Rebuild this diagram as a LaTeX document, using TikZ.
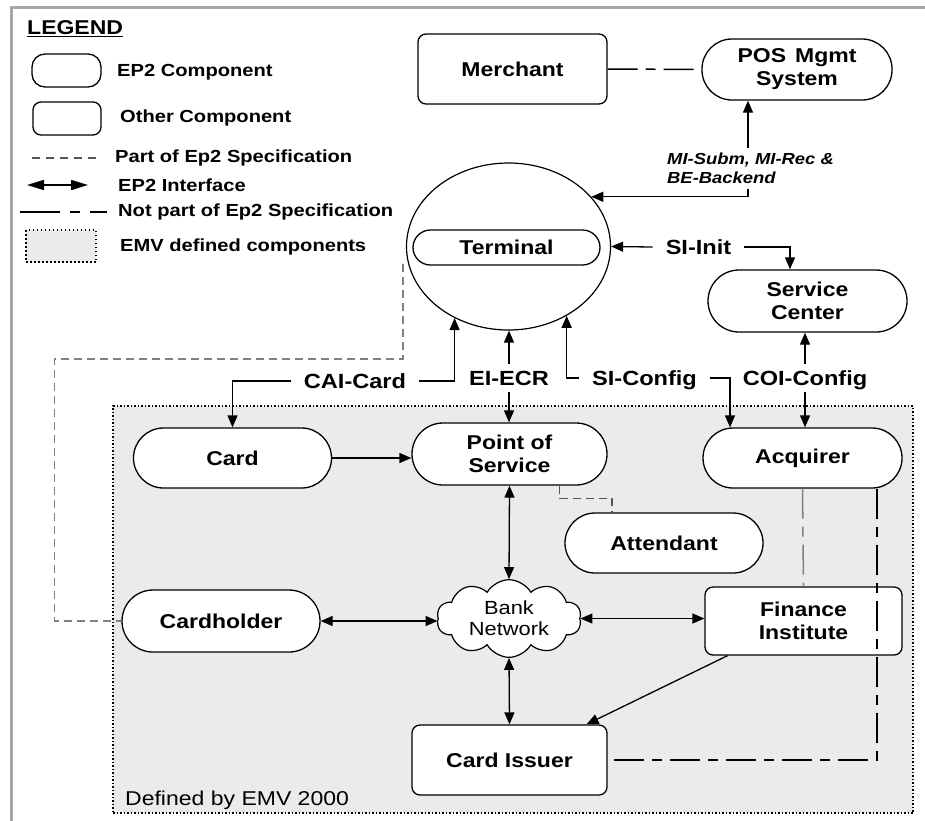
\documentclass[tikz,border=0pt]{standalone}
\usepackage{fontspec}
\setmainfont{Liberation Sans}[FakeStretch=1.15]
\usetikzlibrary{shapes.symbols,shapes.geometric,arrows.meta,calc}
\definecolor{emvgray}{HTML}{EBEBEB}
\definecolor{dashgray}{HTML}{555555}
\tikzset{
  nodebox/.style={draw, line width=1.3pt, fill=white, align=center, inner sep=0pt},
  arr/.style={line width=1.3pt, -{Triangle[length=12pt,width=10pt]}},
  biarr/.style={line width=1.3pt, {Triangle[length=12pt,width=10pt]}-{Triangle[length=12pt,width=10pt]}},
  specline/.style={line width=1.5pt, draw=dashgray, dash pattern=on 8pt off 5pt},
  notpart/.style={line width=1.5pt, dash pattern=on 30pt off 8pt on 10pt off 8pt},
  lbl/.style={font=\bfseries\fontsize{20.5}{23}\selectfont, inner xsep=13pt, inner ysep=7pt, text height=14.5pt, text depth=0pt},
  legtxt/.style={anchor=west, font=\bfseries\fontsize{17.5}{20}\selectfont, inner sep=0pt},
}
\begin{document}
\begin{tikzpicture}[x=1pt,y=-1pt,font=\bfseries\fontsize{20}{23}\selectfont]
\useasboundingbox (0,0) rectangle (925,820);
% frame
\draw[gray!70, line width=3pt] (11,822) -- (11,7) -- (927,7);

% legend
\node[anchor=west, font=\bfseries\fontsize{20}{22}\selectfont, inner sep=0pt] (legend) at (27,29) {\underline{LEGEND}};
\node[nodebox, rounded corners=13pt, minimum width=69pt, minimum height=33pt] (legep2) at (66.5,70.5) {};
\node[legtxt] (legep2t) at (117,72) {EP2 Component};
\node[nodebox, rounded corners=8pt, minimum width=68pt, minimum height=33pt] (legoth) at (67,118.5) {};
\node[legtxt] (legotht) at (120,118) {Other Component};
\draw[line width=1.3pt, draw=dashgray, dash pattern=on 8pt off 6pt] (32,158) -- (97,158);
\node[legtxt] (legspec) at (115,158) {Part of Ep2 Specification};
\draw[line width=1.5pt, {Triangle[length=17pt,width=10pt]}-{Triangle[length=17pt,width=10pt]}] (27,185) -- (88,185);
\node[legtxt] (legif) at (118,185) {EP2 Interface};
\draw[line width=1.3pt, dash pattern=on 40pt off 10pt on 10pt off 10pt] (20,212) -- (107,212);
\node[legtxt] (legnot) at (118,212) {Not part of Ep2 Specification};
\node[draw, dash pattern=on 1.5pt off 2.5pt, line width=1.2pt, fill=emvgray, minimum width=70pt, minimum height=32pt, inner sep=0pt] (legemv) at (61,246) {};
\node[legtxt] (legemvt) at (120,247) {EMV defined components};

% EMV area
\node[draw, dash pattern=on 1.5pt off 2pt, line width=1.2pt, fill=emvgray, minimum width=800pt, minimum height=407pt, inner sep=0pt] (emv) at (513,609.5) {};
\node[anchor=base west, font=\mdseries\fontsize{20}{23}\selectfont, inner sep=0pt] (emvlbl) at (125,805) {Defined by EMV 2000};

% nodes
\node[nodebox, rounded corners=8pt, minimum width=189pt, minimum height=70pt] (merchant) at (512.5,69) {Merchant};
\node[nodebox, rounded corners=30pt, minimum width=190pt, minimum height=61pt] (posmgmt) at (797,69.5) {POS\hspace{9pt}Mgmt\\System};
\node[draw, ellipse, line width=1.2pt, fill=white, minimum width=204pt, minimum height=167pt, inner sep=0pt] (terminal) at (508.5,246.5) {};
\node[nodebox, rounded corners=17.5pt, minimum width=187pt, minimum height=35pt] (terminalbox) at (506.5,247.5) {Terminal};
\node[nodebox, rounded corners=31pt, minimum width=199pt, minimum height=62pt] (sc) at (807.5,301) {Service\\Center};
\node[nodebox, rounded corners=30pt, minimum width=198pt, minimum height=60pt] (card) at (232.5,458) {Card};
\node[nodebox, rounded corners=31pt, minimum width=195pt, minimum height=62pt] (pos) at (509.5,454) {Point of\\Service};
\node[nodebox, rounded corners=30pt, minimum width=199pt, minimum height=60pt] (acq) at (802.5,458) {Acquirer};
\node[nodebox, rounded corners=30pt, minimum width=198pt, minimum height=60pt] (att) at (664,543) {Attendant};
\node[cloud, cloud puffs=10, cloud puff arc=120, cloud ignores aspect, draw, line width=1.2pt, fill=white, inner xsep=10pt, inner ysep=2pt, align=center, font=\mdseries\fontsize{19}{21}\selectfont] (bank) at (509,618.5) {Bank\\Network};
\node[nodebox, rounded corners=31pt, minimum width=198pt, minimum height=62pt] (cardholder) at (221,621) {Cardholder};
\node[nodebox, rounded corners=8pt, minimum width=197pt, minimum height=68pt] (finance) at (803.5,621) {Finance\\Institute};
\node[nodebox, rounded corners=8pt, minimum width=195pt, minimum height=70pt] (issuer) at (509.5,760) {Card Issuer};

% labels
\node[lbl] (cai) at (355,381) {CAI-Card};
\node[lbl, inner xsep=2pt] (ei) at (509,378) {EI-ECR};
\node[lbl] (sicfg) at (644.5,378) {SI-Config};
\node[lbl, inner xsep=2pt] (coi) at (805,378) {COI-Config};
\node[lbl] (siinit) at (698.5,247) {SI-Init};
\node[anchor=north west, align=left, font=\bfseries\itshape\fontsize{16}{19}\selectfont, inner sep=0pt] (mi) at (667,153) {MI-Subm, MI-Rec \&\\BE-Backend};
\coordinate (mitop) at (748,148);
\coordinate (mibot) at (748,189);

% connectors
\draw[notpart] (merchant.east) -- (posmgmt.west);
\draw[arr] (mitop) -- (mitop |- posmgmt.south);
\draw[arr] (mibot) |- (terminal.31.5);
\draw[arr] (siinit.west) -- (terminal.east);
\draw[arr] (siinit.east) -| ([xshift=-17.5pt]sc.north);
\draw[arr] (cai.west) -| (card.north);
\draw[arr] (cai.east) -| (terminal.233);
\draw[arr] (ei.north) -- (ei.north |- terminal.south);
\draw[arr] (ei.south) -- (ei.south |- pos.north);
\draw[arr] (sicfg.west) -| (terminal.310);
\draw[arr] (sicfg.east) -| ([xshift=-72.5pt]acq.north);
\draw[arr] (coi.north) -- (coi.north |- sc.south);
\draw[arr] (coi.south) -- (coi.south |- acq.north);
\draw[arr] (card.east) -- (card.east -| pos.west);
\draw[specline] ([xshift=50pt]pos.south) -- ++(0,13) -| ([xshift=-52pt]att.north);
\draw[biarr] (pos.south) -- (bank.north);
\draw[biarr] (cardholder.east) -- (cardholder.east -| bank.west);
\draw[biarr] (bank.east) -- (bank.east -| finance.west);
\draw[biarr] (bank.south) -- (issuer.north);
\draw[arr] ([xshift=-76pt]finance.south) -- ([xshift=77pt]issuer.north);
\draw[notpart, draw=gray] (acq.south) -- (finance.north);
\draw[notpart] ([xshift=74.5pt]acq.south) |- (issuer.east);
\draw[specline, draw=gray] ([xshift=-5pt]terminal.190) -- ++(0,95) -| ($(cardholder.west)+(-67,0)$) -- (cardholder.west);
\end{tikzpicture}
\end{document}
